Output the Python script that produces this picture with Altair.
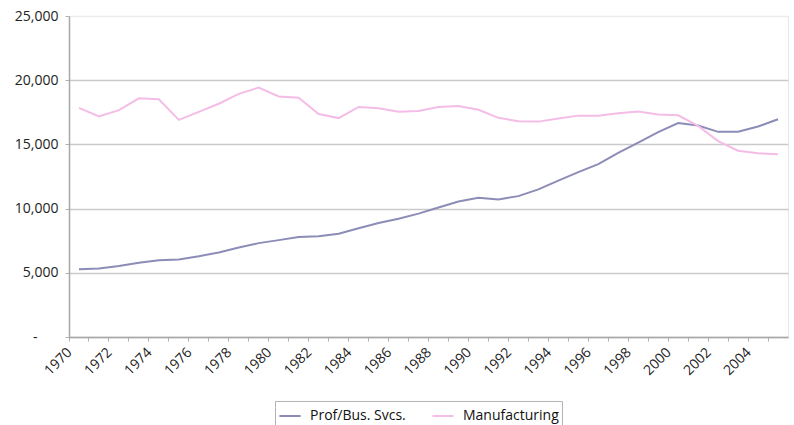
import altair as alt
import pandas as pd

# Annual employment, thousands of jobs
years = list(range(1970, 2006))
prof_bus = [5267, 5328, 5523, 5774, 5974, 6034, 6287, 6587, 6972, 7312,
            7544, 7782, 7848, 8039, 8464, 8871, 9211, 9608, 10090, 10555,
            10848, 10714, 10970, 11495, 12174, 12844, 13462, 14335, 15147, 15957,
            16666, 16476, 15976, 15987, 16394, 16954]
manufacturing = [17848, 17174, 17669, 18589, 18514, 16909, 17531, 18167, 18932, 19426,
                 18733, 18634, 17363, 17048, 17920, 17819, 17552, 17609, 17906, 17985,
                 17695, 17068, 16799, 16774, 17021, 17241, 17237, 17419, 17560, 17322,
                 17263, 16441, 15259, 14509, 14315, 14226]

series_names = ["Prof/Bus. Svcs.", "Manufacturing"]
series_colors = ["#8c8cb8", "#f4bce6"]
y_ticks = [0, 5000, 10000, 15000, 20000, 25000]

rows = []
for name, values in zip(series_names, [prof_bus, manufacturing]):
    for yr, v in zip(years, values):
        rows.append({"year": yr, "value": v, "series": name})
df = pd.DataFrame(rows)

FONT = "Open Sans"

chart = alt.Chart(df).mark_line(strokeWidth=2).encode(
    x=alt.X(
        "year:O",
        bandPosition=0.5,
        scale=alt.Scale(type="band", paddingInner=0, paddingOuter=0),
        axis=alt.Axis(
            title=None,
            bandPosition=0,
            labelAngle=-45,
            labelOffset=-14,
            labelExpr="toNumber(datum.value) % 2 == 0 ? datum.label : ''",
            labelFont=FONT,
            labelFontSize=14,
            labelColor="#222222",
            labelPadding=4,
            domainColor="#a8a8a8",
            domainWidth=1.5,
            tickColor="#b0b0b0",
            tickSize=4,
            grid=False,
        ),
    ),
    y=alt.Y(
        "value:Q",
        scale=alt.Scale(domain=[0, 25000], nice=False),
        axis=alt.Axis(
            title=None,
            values=y_ticks,
            format=",d",
            labelExpr="datum.value == 0 ? '-' : datum.label",
            labelFont=FONT,
            labelFontSize=14,
            labelColor="#222222",
            labelPadding={"condition": {"test": "datum.value == 0", "value": 28},
                          "value": 7},
            domainColor="#a8a8a8",
            domainWidth=1.5,
            tickColor="#b0b0b0",
            tickSize=4,
            gridColor={"condition": {"test": "datum.value == 25000", "value": "#ececec"},
                       "value": "#cacaca"},
            gridWidth=1.6,
        ),
    ),
    color=alt.Color(
        "series:N",
        scale=alt.Scale(domain=series_names, range=series_colors),
        legend=alt.Legend(
            title=None,
            orient="none",
            direction="horizontal",
            legendX=206,
            legendY=385,
            symbolType="stroke",
            symbolSize=450,
            symbolStrokeWidth=2,
            labelFont=FONT,
            labelFontSize=14,
            labelColor="#111111",
            labelOffset=8,
            columnPadding=22,
            padding=3,
            strokeColor="#b4b4b4",
            fillColor="#ffffff",
        ),
    ),
).properties(
    width=719,
    height=321,
    padding={"left": 69, "top": 16, "right": 6, "bottom": 88},
    autosize=alt.AutoSizeParams(type="none"),
).configure_view(
    stroke="#e6e6e6",
    strokeWidth=1,
)

chart.save("out.html", embed_options={"renderer": "svg", "actions": False})
